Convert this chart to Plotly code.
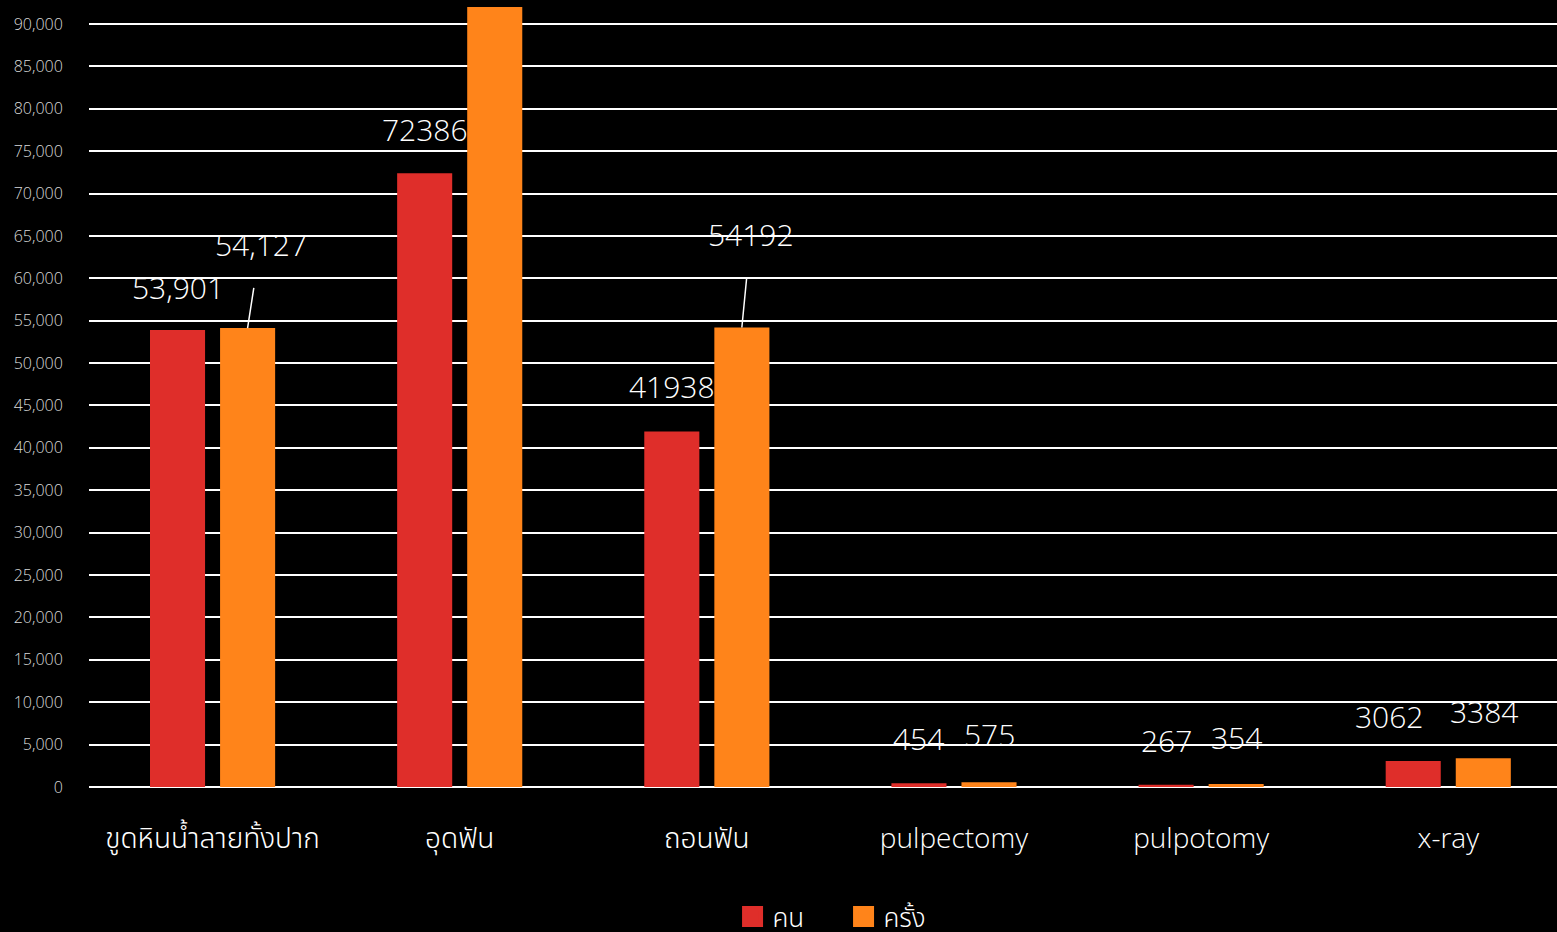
import plotly.graph_objects as go

categories = ["ขูดหินน้ำลายทั้งปาก", "อุดฟัน", "ถอนฟัน", "pulpectomy", "pulpotomy", "x-ray"]
people = [53901, 72386, 41938, 454, 267, 3062]
visits = [54127, 95000, 54192, 575, 354, 3384]
people_labels = ["53,901", "72386", "41938", "454", "267", "3062"]
visits_labels = ["54,127", "", "54192", "575", "354", "3384"]
tick_vals = list(range(0, 90001, 5000))
tick_text = [f"{v:,}" for v in tick_vals]

RED = "#DF2E2A"
ORANGE = "#FF841A"
FONT = "Open Sans, Noto Sans Thai, Noto Sans, sans-serif"
W = 300

fig = go.Figure()
fig.add_trace(go.Bar(name="คน", x=categories, y=people, marker_color=RED,
                     marker_line_width=0, showlegend=False))
fig.add_trace(go.Bar(name="ครั้ง", x=categories, y=visits, marker_color=ORANGE,
                     marker_line_width=0, showlegend=False))
# legend entries with large square swatches
fig.add_trace(go.Scatter(name="คน", x=[None], y=[None], mode="markers",
                         marker=dict(symbol="square", size=22, color=RED,
                                     line=dict(width=5, color=RED))))
fig.add_trace(go.Scatter(name="ครั้ง", x=[None], y=[None], mode="markers",
                         marker=dict(symbol="square", size=22, color=ORANGE,
                                     line=dict(width=5, color=ORANGE))))

# label placement (pixel offsets relative to bar tops), per series
people_dx = [0, 0, 0, 0, 0, -24]
people_dy = [43, 44, 45, 45, 44, 45]
visits_dx = [13, 0, 9, 1, 0, 1]
visits_dy = [84, 0, 93, 48, 47, 47]
visits_leader = [True, False, True, False, False, False]

lab_font = dict(family=FONT, size=30, color="white", weight=W)
for i, c in enumerate(categories):
    fig.add_annotation(x=c, y=people[i], text=people_labels[i], showarrow=False,
                       xshift=-35 + people_dx[i], yshift=people_dy[i], font=lab_font)
    if visits_labels[i]:
        if visits_leader[i]:
            fig.add_annotation(x=c, y=visits[i], text=visits_labels[i], showarrow=True,
                               xshift=35, ax=visits_dx[i], ay=-visits_dy[i],
                               arrowhead=0, arrowwidth=1.5, arrowcolor="white",
                               startstandoff=22, font=lab_font)
        else:
            fig.add_annotation(x=c, y=visits[i], text=visits_labels[i], showarrow=False,
                               xshift=35 + visits_dx[i], yshift=visits_dy[i],
                               font=lab_font)

fig.update_layout(
    width=1557, height=932,
    paper_bgcolor="black", plot_bgcolor="black",
    margin=dict(l=89, r=0, t=7, b=145, autoexpand=False),
    barmode="group", bargap=0.433, bargroupgap=0.214,
    font=dict(family=FONT, color="white", weight=W),
    showlegend=True,
    legend=dict(orientation="h", x=0.514, xanchor="center", y=-0.136, yanchor="top",
                font=dict(family=FONT, size=26, color="white", weight=W),
                itemwidth=30, entrywidth=66, entrywidthmode="pixels",
                traceorder="normal", bgcolor="rgba(0,0,0,0)"),
    xaxis=dict(range=[-0.5, 5.44], showgrid=False, showline=False, zeroline=False,
               tickfont=dict(family=FONT, size=28, color="white", weight=W),
               ticks="outside", ticklen=26, tickcolor="rgba(0,0,0,0)"),
    yaxis=dict(range=[0, 92000], tickvals=tick_vals, ticktext=tick_text,
               showgrid=True, gridcolor="white", gridwidth=2,
               zeroline=True, zerolinecolor="white", zerolinewidth=2,
               showline=False, ticks="outside", ticklen=22,
               tickcolor="rgba(0,0,0,0)",
               tickfont=dict(family=FONT, size=16, color="#D9D9D9", weight=W)),
)

fig.write_html("out.html", config={"displayModeBar": False},
               post_script="document.body.style.margin='0';document.body.style.overflow='hidden';")
